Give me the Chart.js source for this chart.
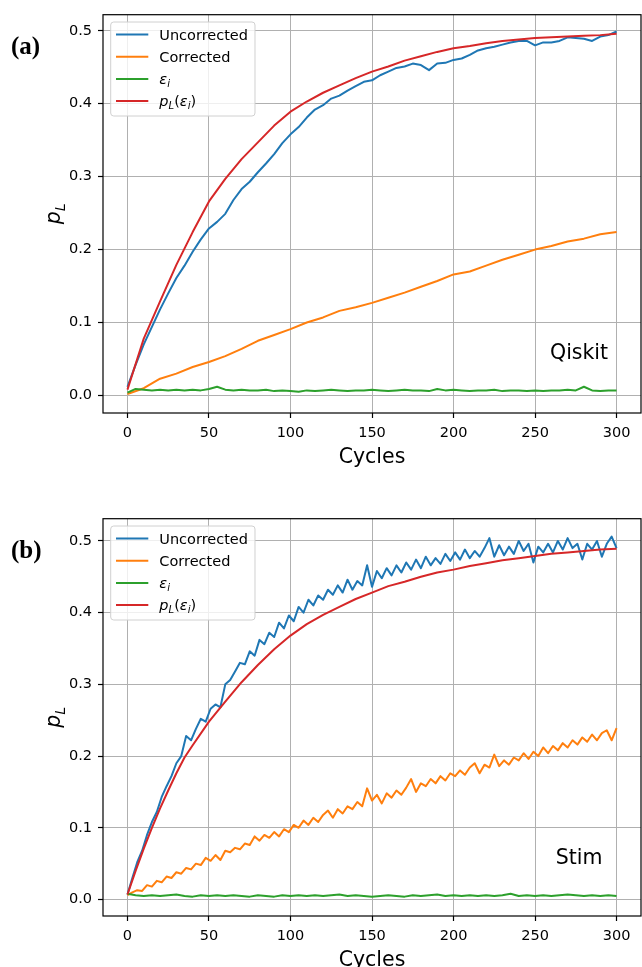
<!DOCTYPE html>
<html>
<head>
<meta charset="utf-8">
<script src="https://cdn.jsdelivr.net/npm/chart.js@4.4.1/dist/chart.umd.min.js"></script>
<style>
  html, body { margin: 0; padding: 0; background: #fff; }
  #wrap { position: relative; width: 642px; height: 967px; overflow: hidden; }
  canvas { position: absolute; left: 0; }
  #chartA { top: 0; }
  #chartB { top: 504px; }
</style>
</head>
<body>
<div id="wrap">
  <canvas id="chartA" width="642" height="478"></canvas>
  <canvas id="chartB" width="642" height="463"></canvas>
</div>
<script>
/* ---- data ---- */
const seriesNames = ['Uncorrected', 'Corrected', 'ε_i', 'p_L(ε_i)'];
const colors = ['#1f77b4', '#ff7f0e', '#2ca02c', '#d62728'];
const xTicks = [0, 50, 100, 150, 200, 250, 300];
const yTicks = [0.0, 0.1, 0.2, 0.3, 0.4, 0.5];

// sample positions (cycles)
const every = (step) => Array.from({ length: 300 / step + 1 }, (_, i) => i * step);
const cycles3 = every(3);
const cycles5 = every(5);
const cycles10 = every(10);

// (a) Qiskit
const qiskitUncorrected = [
  0.012, 0.042, 0.070, 0.094, 0.118, 0.140, 0.161, 0.178, 0.197, 0.214,
  0.229, 0.238, 0.249, 0.268, 0.283, 0.293, 0.306, 0.318, 0.331, 0.346,
  0.358, 0.368, 0.381, 0.392, 0.398, 0.407, 0.411, 0.418, 0.424, 0.430,
  0.432, 0.439, 0.444, 0.449, 0.451, 0.455, 0.453, 0.446, 0.455, 0.456,
  0.460, 0.462, 0.467, 0.473, 0.476, 0.478, 0.481, 0.484, 0.486, 0.486,
  0.480, 0.484, 0.484, 0.486, 0.491, 0.490, 0.489, 0.486, 0.492, 0.494,
  0.499
];
const qiskitCorrected = [
  0.002, 0.010, 0.023, 0.030, 0.039, 0.046, 0.054, 0.064, 0.075, 0.083,
  0.091, 0.100, 0.107, 0.116, 0.121, 0.127, 0.134, 0.141, 0.149, 0.157,
  0.166, 0.170, 0.178, 0.186, 0.193, 0.200, 0.205, 0.211, 0.215, 0.221,
  0.224
];
const qiskitEps = [
  0.004, 0.009, 0.008, 0.007, 0.008, 0.007, 0.008, 0.007, 0.008, 0.007,
  0.009, 0.012, 0.008, 0.007, 0.008, 0.007, 0.007, 0.008, 0.006, 0.007,
  0.006, 0.005, 0.007, 0.006, 0.007, 0.008, 0.007, 0.006, 0.007, 0.007,
  0.008, 0.007, 0.006, 0.007, 0.008, 0.007, 0.007, 0.006, 0.009, 0.007,
  0.008, 0.007, 0.006, 0.007, 0.007, 0.008, 0.006, 0.007, 0.007, 0.006,
  0.007, 0.006, 0.007, 0.007, 0.008, 0.007, 0.012, 0.007, 0.006, 0.007,
  0.007
];
const qiskitModel = [
  0.008, 0.078, 0.129, 0.179, 0.224, 0.266, 0.297, 0.324, 0.347, 0.370,
  0.389, 0.403, 0.415, 0.425, 0.435, 0.444, 0.451, 0.459, 0.465, 0.471,
  0.476, 0.479, 0.483, 0.486, 0.488, 0.490, 0.491, 0.492, 0.493, 0.494,
  0.496
];

// (b) Stim
const stimUncorrected = [
  0.007, 0.030, 0.052, 0.068, 0.090, 0.108, 0.122, 0.143, 0.158, 0.172,
  0.190, 0.200, 0.228, 0.222, 0.238, 0.252, 0.248, 0.266, 0.272, 0.268,
  0.300, 0.306, 0.318, 0.330, 0.328, 0.346, 0.340, 0.362, 0.356, 0.372,
  0.366, 0.386, 0.378, 0.396, 0.388, 0.408, 0.400, 0.418, 0.410, 0.424,
  0.418, 0.432, 0.425, 0.438, 0.428, 0.446, 0.432, 0.444, 0.438, 0.466,
  0.436, 0.458, 0.448, 0.462, 0.452, 0.466, 0.456, 0.470, 0.460, 0.474,
  0.462, 0.478, 0.466, 0.476, 0.468, 0.482, 0.472, 0.484, 0.474, 0.488,
  0.476, 0.486, 0.478, 0.490, 0.504, 0.478, 0.494, 0.480, 0.492, 0.482,
  0.500, 0.486, 0.496, 0.470, 0.492, 0.484, 0.496, 0.484, 0.500, 0.488,
  0.504, 0.490, 0.496, 0.474, 0.496, 0.488, 0.500, 0.478, 0.496, 0.506,
  0.490
];
const stimCorrected = [
  0.006, 0.010, 0.013, 0.012, 0.020, 0.018, 0.026, 0.024, 0.032, 0.030,
  0.038, 0.036, 0.044, 0.042, 0.050, 0.048, 0.058, 0.054, 0.062, 0.055,
  0.068, 0.066, 0.072, 0.070, 0.078, 0.076, 0.088, 0.082, 0.090, 0.086,
  0.094, 0.088, 0.098, 0.094, 0.104, 0.100, 0.110, 0.104, 0.114, 0.108,
  0.118, 0.124, 0.114, 0.126, 0.120, 0.130, 0.126, 0.136, 0.130, 0.155,
  0.138, 0.146, 0.134, 0.148, 0.142, 0.152, 0.146, 0.156, 0.168, 0.150,
  0.162, 0.158, 0.168, 0.162, 0.172, 0.166, 0.176, 0.172, 0.180, 0.174,
  0.184, 0.190, 0.176, 0.188, 0.184, 0.202, 0.186, 0.194, 0.188, 0.198,
  0.194, 0.204, 0.196, 0.206, 0.200, 0.212, 0.204, 0.214, 0.208, 0.218,
  0.212, 0.222, 0.216, 0.226, 0.220, 0.230, 0.222, 0.232, 0.236, 0.222,
  0.239
];
const stimEps = [
  0.008, 0.006, 0.005, 0.006, 0.005, 0.006, 0.007, 0.005, 0.004, 0.006,
  0.005, 0.006, 0.005, 0.006, 0.005, 0.004, 0.006, 0.005, 0.004, 0.006,
  0.005, 0.006, 0.005, 0.006, 0.005, 0.006, 0.007, 0.005, 0.006, 0.005,
  0.004, 0.005, 0.006, 0.005, 0.004, 0.006, 0.005, 0.006, 0.007, 0.005,
  0.006, 0.005, 0.006, 0.005, 0.006, 0.005, 0.006, 0.008, 0.005, 0.006,
  0.005, 0.006, 0.005, 0.006, 0.007, 0.006, 0.005, 0.006, 0.005, 0.006,
  0.005
];
const stimModelCycles = [0, 5, 10, 15, 20, 25, 30, 35, 40, 50, 60, 70, 80, 90, 100, 110, 120, 130, 140,
  150, 160, 170, 180, 190, 200, 210, 220, 230, 240, 250, 260, 270, 280, 290, 300];
const stimModel = [
  0.007, 0.040, 0.071, 0.100, 0.127, 0.152, 0.176, 0.198, 0.215,
  0.248, 0.276, 0.303, 0.327, 0.349, 0.368, 0.384, 0.397, 0.408, 0.419,
  0.428, 0.437, 0.443, 0.450, 0.456, 0.460, 0.465, 0.469, 0.473, 0.476,
  0.479, 0.482, 0.484, 0.486, 0.488, 0.489
];

/* ---- helpers ---- */
const FONT = '"DejaVu Sans", sans-serif';

// split "p_L(ε_i)" into styled runs: letters italic, char after _ is subscript
function richParts(label) {
  if (!label.includes('_')) return [{ t: label, st: 'n' }];
  const parts = [];
  for (let i = 0; i < label.length; i++) {
    const c = label[i];
    if (c === '_') parts.push({ t: label[++i], st: 's' });
    else if (/[A-Za-z\u03b1-\u03c9]/.test(c)) parts.push({ t: c, st: 'i' });
    else parts.push({ t: c, st: 'n' });
  }
  return parts;
}

function drawRich(ctx, label, x, y, size, draw = true) {
  let cx = x;
  richParts(label).forEach(p => {
    const s = p.st === 's' ? size * 0.7 : size;
    ctx.font = (p.st === 'n' ? '' : 'italic ') + s + 'px ' + FONT;
    const dy = p.st === 's' ? size * 0.22 : 0;
    if (draw) ctx.fillText(p.t, cx, y + dy);
    cx += ctx.measureText(p.t).width;
  });
  return cx - x;
}

function line(i, cycles, values) {
  return {
    label: seriesNames[i],
    data: cycles.map((c, k) => ({ x: c, y: values[k] })),
    borderColor: colors[i],
    backgroundColor: colors[i],
    borderWidth: 2,
    borderJoinStyle: 'round',
    pointRadius: 0,
    tension: 0,
    fill: false,
    order: 3 - i
  };
}

// frame, legend, labels drawn on top of the chart
const extras = {
  id: 'extras',
  afterDraw(chart, args, opts) {
    const { ctx, chartArea: a, scales } = chart;
    ctx.save();

    // full box around the axes
    ctx.strokeStyle = '#000';
    ctx.lineWidth = 1.2;
    ctx.strokeRect(a.left, a.top, a.right - a.left, a.bottom - a.top);

    // legend
    const fs = 14.5;
    const bx = a.left + 7.7, by = a.top + 7.3;
    ctx.textAlign = 'left';
    ctx.textBaseline = 'alphabetic';
    let maxW = 0;
    chart.data.datasets.forEach(ds => { maxW = Math.max(maxW, drawRich(ctx, ds.label, 0, 0, fs, false)); });
    const bw = 48.6 + maxW + 7, bh = 94;
    ctx.beginPath();
    ctx.roundRect(bx, by, bw, bh, 3);
    ctx.fillStyle = 'rgba(255,255,255,0.8)';
    ctx.fill();
    ctx.strokeStyle = '#d0d0d0';
    ctx.lineWidth = 1;
    ctx.stroke();
    chart.data.datasets.forEach((ds, i) => {
      const ry = by + 12.5 + i * 22.2;
      ctx.strokeStyle = ds.borderColor;
      ctx.lineWidth = 2;
      ctx.beginPath();
      ctx.moveTo(bx + 5.3, ry);
      ctx.lineTo(bx + 37.6, ry);
      ctx.stroke();
      ctx.fillStyle = '#000';
      drawRich(ctx, ds.label, bx + 48.6, ry + 5, fs);
    });

    // simulator name
    ctx.fillStyle = '#000';
    ctx.font = '20.5px ' + FONT;
    ctx.textAlign = 'center';
    ctx.fillText(opts.name, scales.x.getPixelForValue(277), scales.y.getPixelForValue(0.06) + 7.5);

    // x title
    ctx.fillText('Cycles', (a.left + a.right) / 2, a.bottom + 50);

    // y title p_L
    ctx.save();
    ctx.translate(60, (a.top + a.bottom) / 2);
    ctx.rotate(-Math.PI / 2);
    ctx.textAlign = 'left';
    const w = drawRich(ctx, 'p_L', 0, 0, 20.5, false);
    drawRich(ctx, 'p_L', -w / 2, 0, 20.5);
    ctx.restore();

    // panel tag
    ctx.font = 'bold 25px "Liberation Serif", serif';
    ctx.textAlign = 'left';
    ctx.fillText(opts.tag, 11, a.top + 39);

    ctx.restore();
  }
};

function makePanel(id, datasets, yMin, yMax, xHeight, tag, name) {
  return new Chart(document.getElementById(id), {
    type: 'line',
    data: { datasets },
    plugins: [extras],
    options: {
      responsive: false,
      devicePixelRatio: 1,
      animation: false,
      layout: { padding: { top: 11, left: 0, right: 1, bottom: 0 } },
      plugins: {
        legend: { display: false },
        tooltip: { enabled: false },
        extras: { tag, name }
      },
      scales: {
        x: {
          type: 'linear',
          min: -15,
          max: 315,
          afterFit: (s) => { s.height = xHeight; },
          afterBuildTicks: (s) => { s.ticks = xTicks.map(v => ({ value: v })); },
          ticks: { color: '#000', font: { family: 'DejaVu Sans', size: 14.5 }, padding: 7, maxRotation: 0,
                   callback: (v) => String(v) },
          grid: { color: '#b0b0b0', lineWidth: 1, tickLength: 5, tickColor: '#000', tickWidth: 1.2 },
          border: { display: false }
        },
        y: {
          type: 'linear',
          min: yMin,
          max: yMax,
          afterFit: (s) => { s.width = 103; },
          afterBuildTicks: (s) => { s.ticks = yTicks.map(v => ({ value: v })); },
          ticks: { color: '#000', font: { family: 'DejaVu Sans', size: 14.5 }, padding: 6,
                   callback: (v) => v.toFixed(1) },
          grid: { color: '#b0b0b0', lineWidth: 1, tickLength: 5, tickColor: '#000', tickWidth: 1.2 },
          border: { display: false }
        }
      }
    }
  });
}

makePanel('chartA', [
  line(0, cycles5, qiskitUncorrected),
  line(1, cycles10, qiskitCorrected),
  line(2, cycles5, qiskitEps),
  line(3, cycles10, qiskitModel)
], -0.024, 0.522, 65, '(a)', 'Qiskit');

makePanel('chartB', [
  line(0, cycles3, stimUncorrected),
  line(1, cycles3, stimCorrected),
  line(2, cycles5, stimEps),
  line(3, stimModelCycles, stimModel)
], -0.023, 0.531, 51, '(b)', 'Stim');
</script>
</body>
</html>
